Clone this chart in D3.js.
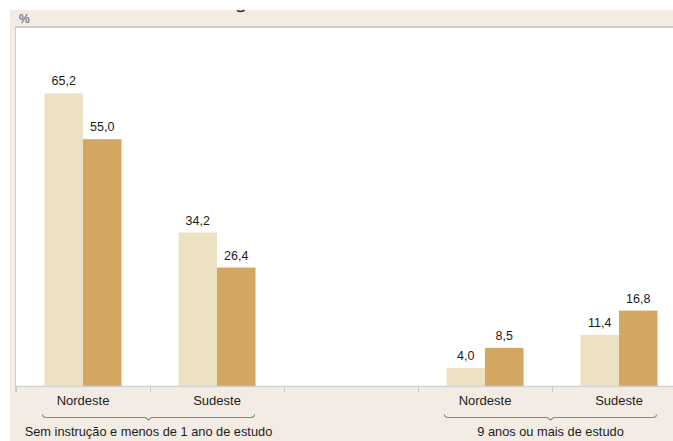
<!DOCTYPE html>
<html><head><meta charset="utf-8">
<script src="https://cdn.jsdelivr.net/npm/d3@7"></script>
<style>html,body{margin:0;padding:0;background:#fff;}svg{display:block;font-family:"Liberation Sans",Arial,sans-serif;}</style>
</head><body>
<svg id="c" width="673" height="441"></svg>
<script>
// ---- data ----
const categoryIds = ["c1", "c2", "gap", "c3", "c4"];
const categoryLabels = ["Nordeste", "Sudeste", "", "Nordeste", "Sudeste"];
const seriesKeys = ["s1", "s2"];
const series1 = [65.2, 34.2, null, 4.0, 11.4];
const series2 = [55.0, 26.4, null, 8.5, 16.8];
const groupLabels = ["Sem instrução e menos de 1 ano de estudo", "9 anos ou mais de estudo"];
const groupMembers = [["c1", "c2"], ["c3", "c4"]];
const yDomain = [0, 80];

const colors = {s1: "#ede1c4", s2: "#d4a760"};
const svg = d3.select("#c");

// background frame
svg.append("rect").attr("x", 10).attr("y", 10).attr("width", 663).attr("height", 431).attr("fill", "#f3ece5");

// cut-off title fragment (descender only)
svg.append("path").attr("d", "M237,10.3 Q240,12.6 244.5,10.3").attr("fill", "none").attr("stroke", "#333").attr("stroke-width", 1.6);

svg.append("text").attr("x", 19).attr("y", 23).attr("font-size", 12).attr("fill", "#4e4a55").text("%");

const plot = {left: 16, top: 28, right: 686, bottom: 386};
svg.append("rect").attr("x", plot.left).attr("y", plot.top).attr("width", 673 - plot.left).attr("height", plot.bottom - plot.top).attr("fill", "#fff");

const x = d3.scaleBand().domain(categoryIds).range([plot.left, plot.right]).padding(0);
const x1 = d3.scaleBand().domain(seriesKeys).range([0, x.bandwidth()]).paddingInner(0).paddingOuter(0.74);
const y = d3.scaleLinear().domain(yDomain).range([plot.bottom, plot.top - 1]);

// borders
svg.append("line").attr("x1", 15).attr("x2", 673).attr("y1", 27).attr("y2", 27).attr("stroke", "#c6c1b9").attr("stroke-width", 1.5);
svg.append("line").attr("x1", 15.5).attr("x2", 15.5).attr("y1", 27).attr("y2", 392).attr("stroke", "#cfcbc4").attr("stroke-width", 1);

const rows = categoryIds.map((id, i) => ({id, label: categoryLabels[i], s1: series1[i], s2: series2[i]}));

const g = svg.append("g");
rows.forEach(r => {
  seriesKeys.forEach(k => {
    const v = r[k];
    if (v == null) return;
    const bx = x(r.id) + x1(k);
    g.append("rect").attr("x", bx).attr("y", y(v)).attr("width", x1.bandwidth()).attr("height", y(0) - y(v)).attr("fill", colors[k]);
    g.append("text").attr("x", bx + x1.bandwidth() / 2).attr("y", y(v) - 8).attr("text-anchor", "middle")
      .attr("font-size", 12.5).attr("fill", "#1c1c1c").text(d3.format(".1f")(v).replace(".", ","));
  });
});

// x axis
const axis = d3.axisBottom(x).tickSize(0).tickFormat((d, i) => categoryLabels[i]);
const ag = svg.append("g").attr("transform", `translate(0,${plot.bottom})`).call(axis);
ag.select(".domain").attr("stroke", "#d2d2d2").attr("stroke-width", 1.5);
ag.selectAll("text").attr("font-size", 13).attr("fill", "#1c1c1c").attr("font-family", "Liberation Sans, Arial, sans-serif").attr("dy", 0).attr("y", 19);
// tick separators at band boundaries
categoryIds.forEach(id => {
  const tx = x(id) + 0.5;
  svg.append("line").attr("x1", tx).attr("x2", tx).attr("y1", plot.bottom).attr("y2", plot.bottom + 6).attr("stroke", "#cfcbc4");
});

// braces + group labels
groupMembers.forEach((m, i) => {
  const x0 = x(m[0]) + x1(seriesKeys[0]) - 2;
  const xe = x(m[m.length - 1]) + x1(seriesKeys[1]) + x1.bandwidth() - 1;
  const cx = (x0 + xe) / 2;
  const yb = 417.5;
  const p = `M${x0},${yb - 3} Q${x0},${yb} ${x0 + 4},${yb} L${cx - 3},${yb} L${cx},${yb + 2.5} L${cx + 3},${yb} L${xe - 4},${yb} Q${xe},${yb} ${xe},${yb - 3}`;
  svg.append("path").attr("d", p).attr("fill", "none").attr("stroke", "#8a8680").attr("stroke-width", 1.1);
  svg.append("text").attr("x", cx).attr("y", 436).attr("text-anchor", "middle").attr("font-size", 12.8).attr("fill", "#1c1c1c").text(groupLabels[i]);
});
</script>
</body></html>
